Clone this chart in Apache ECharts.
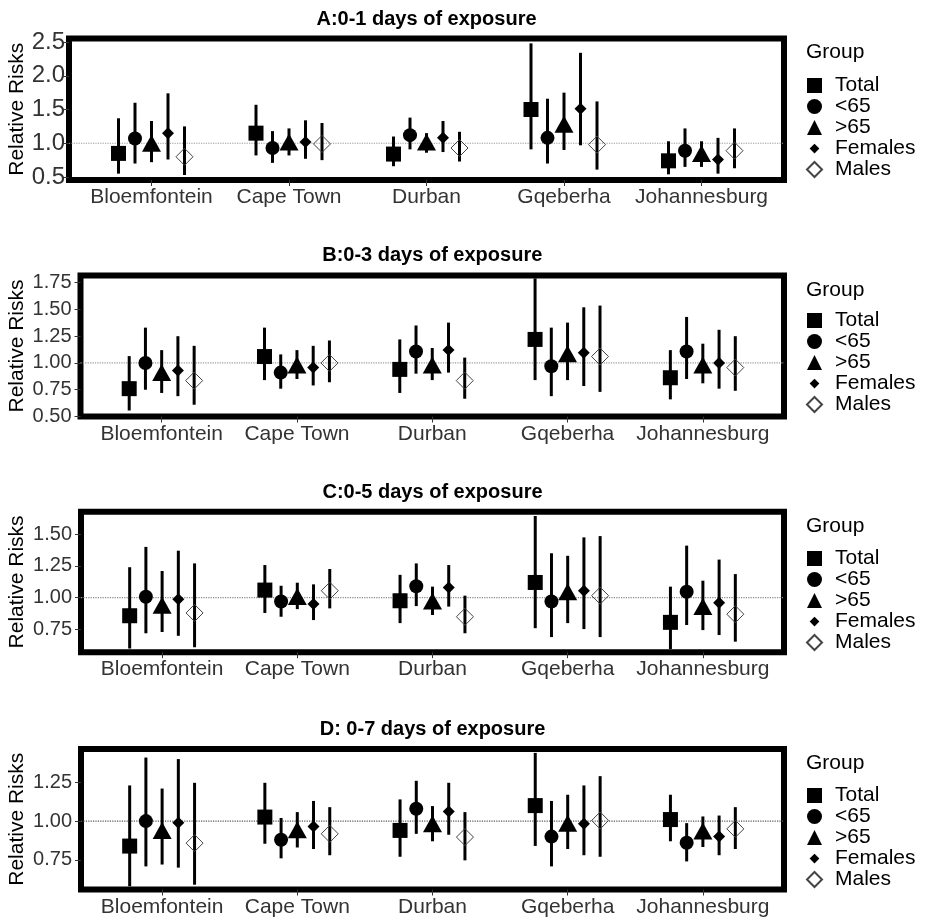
<!DOCTYPE html>
<html>
<head>
<meta charset="utf-8">
<script src="https://cdn.jsdelivr.net/npm/echarts@6/dist/echarts.min.js"></script>
<style>
  html, body { margin: 0; padding: 0; background: #fff; }
  #chart { width: 941px; height: 922px; }
</style>
</head>
<body>
<div id="chart"></div>
<script>
var cities = ['Bloemfontein', 'Cape Town', 'Durban', 'Gqeberha', 'Johannesburg'];
var groups = ['Total', '<65', '>65', 'Females', 'Males'];
var titles = ['A:0-1 days of exposure', 'B:0-3 days of exposure', 'C:0-5 days of exposure', 'D: 0-7 days of exposure'];

// rows = city, columns = group (Total, <65, >65, Females, Males)
var estA  = [[0.85, 1.07, 1.00, 1.15, 0.80], [1.15, 0.93, 1.02, 1.02, 0.99], [0.84, 1.12, 1.02, 1.08, 0.93], [1.50, 1.08, 1.28, 1.51, 0.98], [0.74, 0.89, 0.85, 0.76, 0.89]];
var lowA  = [[0.55, 0.70, 0.72, 0.76, 0.53], [0.82, 0.71, 0.82, 0.77, 0.75], [0.66, 0.91, 0.86, 0.87, 0.73], [0.91, 0.70, 0.90, 0.97, 0.61], [0.54, 0.65, 0.65, 0.55, 0.63]];
var highA = [[1.37, 1.60, 1.33, 1.74, 1.25], [1.57, 1.18, 1.22, 1.34, 1.30], [1.10, 1.38, 1.15, 1.33, 1.17], [2.48, 1.66, 1.75, 2.34, 1.62], [1.03, 1.22, 1.03, 1.08, 1.22]];

var estB  = [[0.76, 1.00, 0.91, 0.93, 0.835], [1.06, 0.91, 0.98, 0.957, 1.00], [0.94, 1.107, 0.98, 1.12, 0.835], [1.22, 0.97, 1.086, 1.095, 1.06], [0.862, 1.107, 0.98, 1.00, 0.957]];
var lowB  = [[0.556, 0.75, 0.72, 0.69, 0.61], [0.84, 0.76, 0.85, 0.79, 0.82], [0.72, 0.90, 0.84, 0.91, 0.666], [0.84, 0.69, 0.84, 0.785, 0.73], [0.66, 0.85, 0.81, 0.76, 0.74]];
var highB = [[1.064, 1.33, 1.12, 1.25, 1.16], [1.33, 1.08, 1.12, 1.16, 1.21], [1.22, 1.35, 1.14, 1.377, 1.05], [1.79, 1.33, 1.377, 1.52, 1.536], [1.12, 1.43, 1.18, 1.31, 1.25]];

var estC  = [[0.858, 1.008, 0.94, 0.987, 0.88], [1.06, 0.97, 1.01, 0.95, 1.055], [0.976, 1.09, 0.975, 1.08, 0.85], [1.12, 0.97, 1.047, 1.055, 1.016], [0.806, 1.047, 0.93, 0.96, 0.87]];
var lowC  = [[0.60, 0.72, 0.73, 0.70, 0.61], [0.88, 0.85, 0.91, 0.824, 0.916], [0.80, 0.934, 0.864, 0.93, 0.72], [0.76, 0.69, 0.80, 0.753, 0.69], [0.596, 0.785, 0.745, 0.706, 0.654]];
var highC = [[1.24, 1.40, 1.21, 1.37, 1.27], [1.257, 1.094, 1.118, 1.105, 1.226], [1.18, 1.27, 1.087, 1.257, 1.016], [1.643, 1.35, 1.33, 1.475, 1.485], [1.087, 1.41, 1.134, 1.30, 1.186]];

var estD  = [[0.839, 1.00, 0.94, 0.99, 0.858], [1.026, 0.88, 0.944, 0.966, 0.918], [0.94, 1.08, 0.983, 1.062, 0.897], [1.10, 0.90, 0.987, 0.983, 1.004], [1.01, 0.86, 0.936, 0.90, 0.95]];
var lowD  = [[0.58, 0.708, 0.72, 0.70, 0.59], [0.854, 0.76, 0.83, 0.82, 0.78], [0.77, 0.918, 0.87, 0.912, 0.747], [0.84, 0.708, 0.82, 0.78, 0.77], [0.87, 0.74, 0.833, 0.78, 0.82]];
var highD = [[1.23, 1.41, 1.21, 1.40, 1.247], [1.247, 1.02, 1.058, 1.13, 1.09], [1.14, 1.26, 1.097, 1.247, 1.058], [1.44, 1.13, 1.17, 1.23, 1.29], [1.17, 0.987, 1.03, 1.036, 1.09]];

var yTicks = [[0.5, 1.0, 1.5, 2.0, 2.5], [0.5, 0.75, 1.0, 1.25, 1.5, 1.75], [0.75, 1.0, 1.25, 1.5], [0.75, 1.0, 1.25]];
var refValue = 1;

var est = [estA, estB, estC, estD];
var low = [lowA, lowB, lowC, lowD];
var high = [highA, highB, highC, highD];

var panels = [
  {top: 38.5, height: 141.5, left: 69, yMin: 0.456, yMax: 2.552, tickFont: 24, tickMargin: 4, nameGap: 41, titleTop: 9, groupTop: 42, legTop: 75, refColor: '#999'},
  {top: 275.5, height: 141, left: 80.5, yMin: 0.5, yMax: 1.817, tickFont: 20, tickMargin: 9, nameGap: 53, titleTop: 245, groupTop: 279.5, legTop: 310, refColor: '#999'},
  {top: 511.7, height: 140.5, left: 81, yMin: 0.571, yMax: 1.677, tickFont: 20, tickMargin: 9, nameGap: 53, titleTop: 482, groupTop: 516, legTop: 548, refColor: '#888'},
  {top: 749, height: 140.5, left: 81, yMin: 0.559, yMax: 1.465, tickFont: 20, tickMargin: 9, nameGap: 53, titleTop: 719, groupTop: 753, legTop: 785, refColor: '#555'}
];

var symbols = ['rect', 'circle', 'triangle', 'diamond', 'diamond'];
var sizes = [15, 14, [19, 17], 12, 17];
var dodge = 0.12;
var font = 'Liberation Sans, Arial, sans-serif';

var chart = echarts.init(document.getElementById('chart'));

function groupStyle(g) {
  if (g === 4) {
    return {color: 'rgba(0,0,0,0)', borderColor: '#444', borderWidth: 1, opacity: 1};
  }
  return {color: '#000', opacity: 1};
}

function renderBar(params, api) {
  var top = api.coord([api.value(0), api.value(2)]);
  var bottom = api.coord([api.value(0), api.value(1)]);
  return {
    type: 'line',
    shape: {x1: top[0], y1: top[1], x2: bottom[0], y2: bottom[1]},
    style: {stroke: '#000', lineWidth: 3}
  };
}

var grids = [], xAxes = [], yAxes = [], series = [], titleList = [], legends = [];

panels.forEach(function (p, k) {
  grids.push({
    left: p.left, right: 157, top: p.top, height: p.height,
    show: true, borderColor: '#000', borderWidth: 6,
    outerBoundsMode: 'none'
  });

  xAxes.push({
    type: 'value', gridIndex: k, min: 0.4, max: 5.6,
    splitLine: {show: false},
    axisLine: {show: false, onZero: false},
    axisTick: {show: true, customValues: [1, 2, 3, 4, 5], length: 6, lineStyle: {color: '#333'}},
    axisLabel: {
      customValues: [1, 2, 3, 4, 5],
      formatter: function (v) { return cities[Math.round(v) - 1]; },
      fontSize: 21, color: '#333', margin: 7
    }
  });

  yAxes.push({
    type: 'value', gridIndex: k, min: p.yMin, max: p.yMax,
    splitLine: {show: false},
    axisLine: {show: false, onZero: false},
    axisTick: {show: true, customValues: yTicks[k], length: 6, lineStyle: {color: '#333'}},
    axisLabel: {
      customValues: yTicks[k],
      formatter: function (v) { return v.toFixed(k === 0 ? 1 : 2); },
      fontSize: p.tickFont, color: '#333', margin: p.tickMargin
    },
    name: 'Relative Risks', nameLocation: 'middle', nameGap: p.nameGap,
    nameMoveOverlap: false,
    nameTextStyle: {fontSize: 21, color: '#000'}
  });

  // dotted reference line at RR = 1
  series.push({
    type: 'line', xAxisIndex: k, yAxisIndex: k, silent: true, z: 1,
    symbol: 'none',
    lineStyle: {color: p.refColor, type: 'dotted', width: 1.2},
    data: [[0.4, refValue], [5.6, refValue]]
  });

  var bars = [];
  cities.forEach(function (c, i) {
    groups.forEach(function (g, j) {
      bars.push([i + 1 + (j - 2) * dodge, low[k][i][j], high[k][i][j]]);
    });
  });
  series.push({
    type: 'custom', xAxisIndex: k, yAxisIndex: k, silent: true, z: 2,
    renderItem: renderBar,
    encode: {x: 0, y: [1, 2]},
    data: bars
  });

  groups.forEach(function (g, j) {
    series.push({
      type: 'scatter', name: g, xAxisIndex: k, yAxisIndex: k, z: 3,
      symbol: symbols[j], symbolSize: sizes[j],
      itemStyle: groupStyle(j),
      data: cities.map(function (c, i) { return [i + 1 + (j - 2) * dodge, est[k][i][j]]; })
    });
  });

  titleList.push({
    text: titles[k], left: (p.left + 784) / 2, top: p.titleTop, textAlign: 'center', padding: 0,
    textStyle: {fontSize: 20, fontWeight: 'bold', color: '#000', fontFamily: font}
  });
  titleList.push({
    text: 'Group', left: 806, top: p.groupTop, padding: 0,
    textStyle: {fontSize: 21, fontWeight: 'normal', color: '#000', fontFamily: font}
  });

  legends.push({
    orient: 'vertical', left: 806, top: p.legTop, padding: 0,
    itemWidth: 15, itemHeight: 15, itemGap: 0, selectedMode: false,
    data: groups.map(function (g) {
      return g === 'Females' ? {name: g, icon: 'path://M0,0M20,20M10,3.5L16.5,10L10,16.5L3.5,10Z'} : g;
    }),
    textStyle: {fontSize: 21, lineHeight: 20, color: '#000', padding: [0, 0, 0, 8], fontFamily: font}
  });
});

chart.setOption({
  animation: false,
  backgroundColor: '#fff',
  textStyle: {fontFamily: font},
  title: titleList,
  legend: legends,
  grid: grids,
  xAxis: xAxes,
  yAxis: yAxes,
  series: series
});
</script>
</body>
</html>
